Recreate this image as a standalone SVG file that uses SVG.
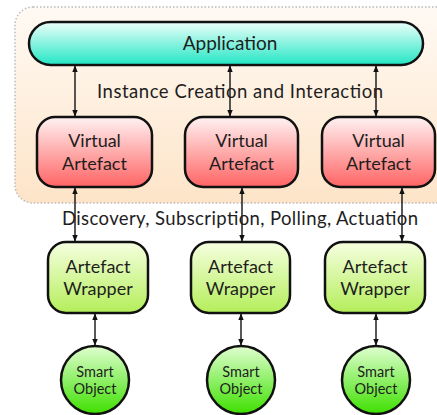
<svg xmlns="http://www.w3.org/2000/svg" width="437" height="415" viewBox="0 0 437 415">
<defs>
<linearGradient id="gCont" x1="0" y1="0" x2="0" y2="1"><stop offset="0" stop-color="#fffaf4"/><stop offset="1" stop-color="#fde4c8"/></linearGradient>
<linearGradient id="gApp" x1="0" y1="0" x2="0" y2="1"><stop offset="0" stop-color="#ecfffa"/><stop offset="1" stop-color="#22e6c4"/></linearGradient>
<linearGradient id="gVA" x1="0" y1="0" x2="0" y2="1"><stop offset="0" stop-color="#fff2f2"/><stop offset="1" stop-color="#ff6464"/></linearGradient>
<linearGradient id="gAW" x1="0" y1="0" x2="0" y2="1"><stop offset="0" stop-color="#f6ffe0"/><stop offset="1" stop-color="#b4ee5a"/></linearGradient>
<linearGradient id="gSO" x1="0" y1="0" x2="0" y2="1"><stop offset="0" stop-color="#e0ffd0"/><stop offset="1" stop-color="#3ee000"/></linearGradient>
<marker id="ah" viewBox="0 0 10 10" refX="9" refY="5" markerWidth="7" markerHeight="7" markerUnits="userSpaceOnUse" orient="auto-start-reverse"><path d="M0,1 L10,5 L0,9 z" fill="#111"/></marker>
</defs>
<style>
.box{stroke:#111;stroke-width:2.5}
.t{font-family:Lato,"Open Sans","DejaVu Sans",sans-serif;fill:#1e1e1e;text-anchor:middle}
.big{font-size:19px}
.mid{font-size:18px}
.sm{font-size:14.5px}
.lbl{font-family:Lato,"Open Sans","DejaVu Sans",sans-serif;fill:#1e1e1e;font-size:18.5px}
.c{stroke:#111;stroke-width:1.4;fill:none;marker-start:url(#ah);marker-end:url(#ah)}
</style>
<rect x="15" y="7" width="440" height="196" rx="18" fill="url(#gCont)" stroke="#bbb" stroke-width="1.5" stroke-dasharray="1.5,2"/>
<g id="connectors">
<line class="c" x1="75" y1="66" x2="75" y2="116"/>
<line class="c" x1="230" y1="66" x2="230" y2="116"/>
<line class="c" x1="376" y1="66" x2="376" y2="116"/>
<line class="c" x1="75" y1="188" x2="75" y2="241"/>
<line class="c" x1="242" y1="188" x2="242" y2="241"/>
<line class="c" x1="402" y1="188" x2="402" y2="241"/>
<line class="c" x1="95" y1="314" x2="95" y2="345"/>
<line class="c" x1="241" y1="314" x2="241" y2="345"/>
<line class="c" x1="376" y1="314" x2="376" y2="345"/>
</g>
<text class="lbl" x="97" y="98" textLength="286">Instance Creation and Interaction</text>
<text class="lbl" x="62" y="225" textLength="356">Discovery, Subscription, Polling,  Actuation</text>
<g id="app"><rect class="box" x="29" y="22" width="394" height="43" rx="21.5" fill="url(#gApp)"/><text class="t big" x="230" y="50">Application</text></g>
<g id="va1"><rect class="box" x="37" y="117" width="115" height="70" rx="18" fill="url(#gVA)"/><text class="t mid" x="94.5" y="147">Virtual</text><text class="t mid" x="94.5" y="170">Artefact</text></g>
<g id="va2"><rect class="box" x="185" y="117" width="113" height="70" rx="18" fill="url(#gVA)"/><text class="t mid" x="241.5" y="147">Virtual</text><text class="t mid" x="241.5" y="170">Artefact</text></g>
<g id="va3"><rect class="box" x="322" y="117" width="113" height="70" rx="18" fill="url(#gVA)"/><text class="t mid" x="378.5" y="147">Virtual</text><text class="t mid" x="378.5" y="170">Artefact</text></g>
<g id="aw1"><rect class="box" x="48" y="242" width="100" height="71" rx="18" fill="url(#gAW)"/><text class="t mid" x="98" y="273">Artefact</text><text class="t mid" x="98" y="295">Wrapper</text></g>
<g id="aw2"><rect class="box" x="191" y="242" width="99" height="71" rx="18" fill="url(#gAW)"/><text class="t mid" x="240.5" y="273">Artefact</text><text class="t mid" x="240.5" y="295">Wrapper</text></g>
<g id="aw3"><rect class="box" x="325" y="242" width="100" height="71" rx="18" fill="url(#gAW)"/><text class="t mid" x="375" y="273">Artefact</text><text class="t mid" x="375" y="295">Wrapper</text></g>
<g id="so1"><circle class="box" cx="95" cy="380" r="34" fill="url(#gSO)"/><text class="t sm" x="95" y="377">Smart</text><text class="t sm" x="95" y="394">Object</text></g>
<g id="so2"><circle class="box" cx="241" cy="380" r="34" fill="url(#gSO)"/><text class="t sm" x="241" y="377">Smart</text><text class="t sm" x="241" y="394">Object</text></g>
<g id="so3"><circle class="box" cx="376" cy="380" r="34" fill="url(#gSO)"/><text class="t sm" x="376" y="377">Smart</text><text class="t sm" x="376" y="394">Object</text></g>
</svg>
